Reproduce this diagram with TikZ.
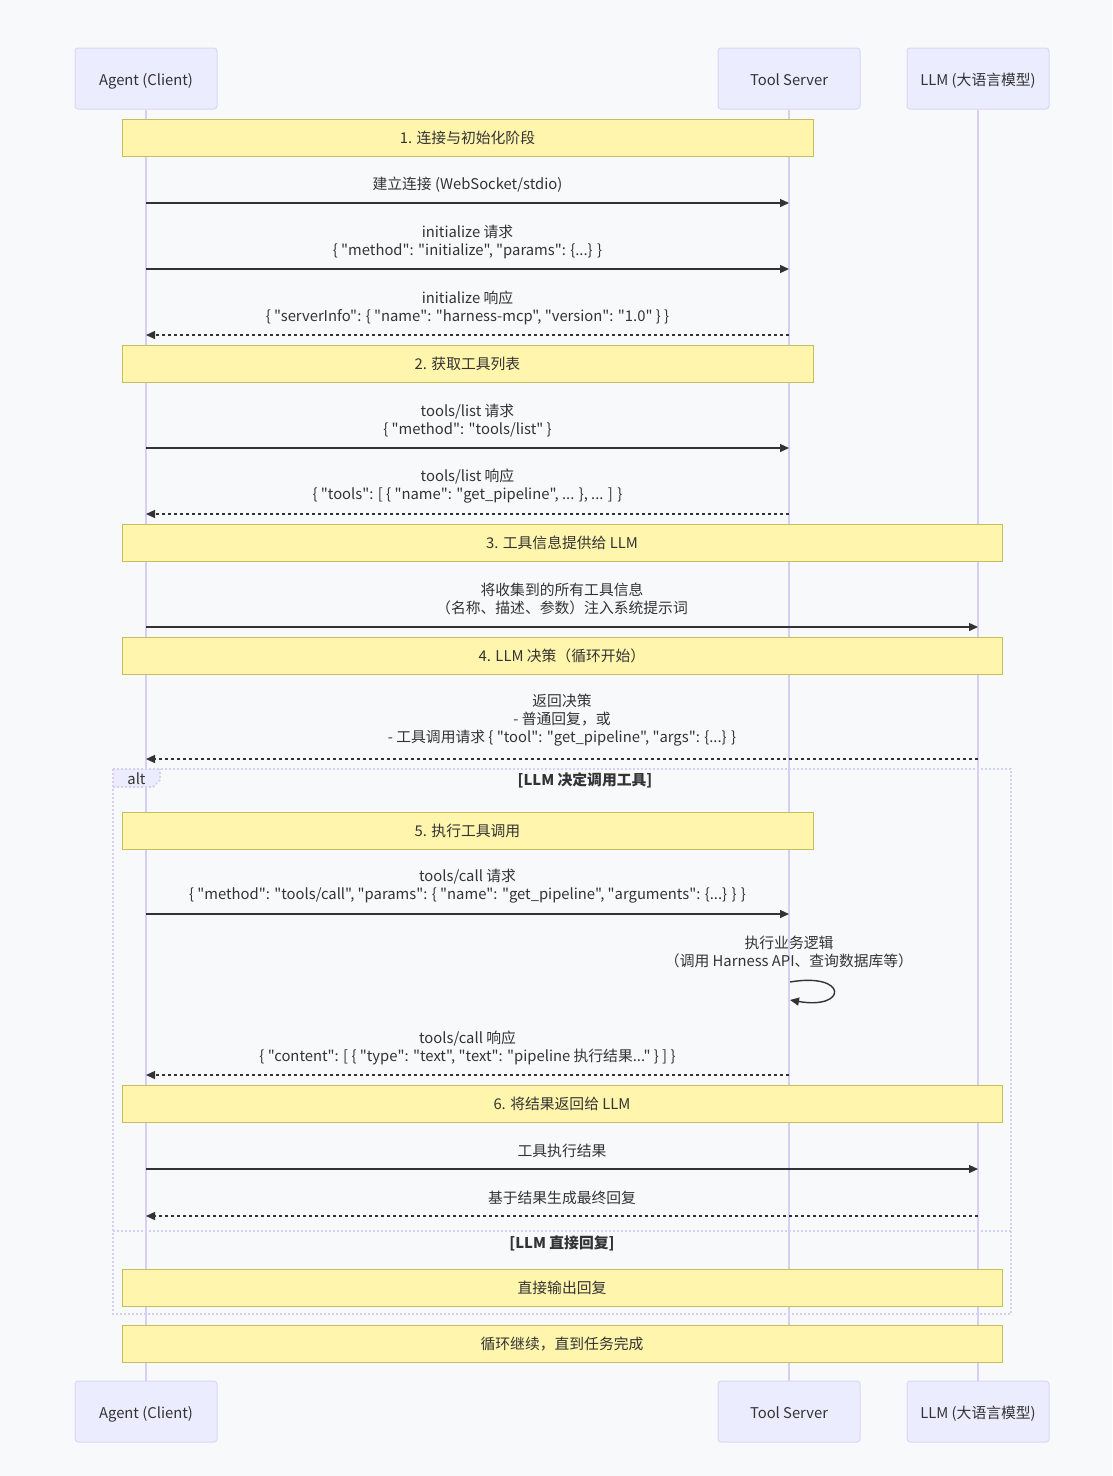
\documentclass[tikz,border=0pt]{standalone}
\usepackage{fontspec}
\setmainfont{Noto Sans CJK SC}[Ligatures=TeXOff]
\usetikzlibrary{shapes,positioning,arrows.meta}
\definecolor{bgcol}{HTML}{F8F9FB}
\definecolor{actorfill}{HTML}{ECECFF}
\definecolor{actorline}{HTML}{DCD5F7}
\definecolor{lifeline}{HTML}{D7CEF2}
\definecolor{notefill}{HTML}{FFF5AD}
\definecolor{noteline}{HTML}{C4BE5E}
\definecolor{txt}{HTML}{333333}
\newcommand{\msgfont}{\fontsize{14.8}{18}\selectfont}

\begin{document}
\begin{tikzpicture}[x=1pt,y=-1pt]

  \fill[bgcol] (0,0) rectangle (1112,1476);

  \coordinate (Agent) at (146,78.5);
  \coordinate (Server) at (789,78.5);
  \coordinate (Llm) at (978,78.5);
  \coordinate (AgentEnd) at (146,1411.5);
  \coordinate (ServerEnd) at (789,1411.5);
  \coordinate (LlmEnd) at (978,1411.5);

  \tikzstyle{abox}=[draw=actorline,fill=actorfill,line width=1pt,
                    rounded corners=3pt,
                    minimum width=142pt,minimum height=61pt,
                    text height=16pt,text depth=2pt,
                    text=txt,font=\msgfont];
  \tikzstyle{nbox}=[draw=noteline,fill=notefill,line width=1pt,
                    minimum width=691pt,minimum height=37pt,
                    text=txt,font=\msgfont];
  \tikzstyle{wbox}=[nbox,minimum width=880pt];
  \tikzstyle{msg}=[text=txt,align=center,inner sep=0pt,font=\msgfont];
  \tikzstyle{call}=[-{Triangle[length=9pt,width=8pt]},line width=1.4pt,color=txt];
  \tikzstyle{reply}=[call,dash pattern=on 3pt off 3pt];
  \tikzstyle{life}=[draw=lifeline,line width=1.5pt];
  \tikzstyle{frame}=[draw=lifeline,line width=1.6pt,dash pattern=on 2pt off 2pt];

  % actors and lifelines
  \node[abox] (AgentTop) at (Agent) {Agent (Client)};
  \node[abox] (ServerTop) at (Server) {Tool Server};
  \node[abox] (LlmTop) at (Llm) {LLM (大语言模型)};
  \node[abox] (AgentBot) at (AgentEnd) {Agent (Client)};
  \node[abox] (ServerBot) at (ServerEnd) {Tool Server};
  \node[abox] (LlmBot) at (LlmEnd) {LLM (大语言模型)};
  \draw[life] (AgentTop) -- (AgentBot);
  \draw[life] (ServerTop) -- (ServerBot);
  \draw[life] (LlmTop) -- (LlmBot);

  % alt frame
  \coordinate (AltNW) at (113,769);
  \coordinate (AltSE) at (1011,1314);
  \coordinate (ElseW) at (113,1231);
  \coordinate (ElseE) at (1011,1231);
  \fill[actorfill] (113,769) -- (160,769) -- (160,780) -- (153,787) -- (113,787) -- cycle;
  \draw[frame] (113,787) -- (153,787) -- (160,780) -- (160,769);
  \draw[frame] (AltNW) rectangle (AltSE);
  \draw[frame] (ElseW) -- (ElseE);
  \node[msg] (AltTag) at (136.5,779) {alt};
  \node[msg,font=\msgfont\bfseries] (AltIf) at (585,780) {[LLM 决定调用工具]};
  \node[msg,font=\msgfont\bfseries] (AltElse) at (562,1243) {[LLM 直接回复]};

  % notes
  \node[nbox] (Note1) at (467.5,137.5) {1. 连接与初始化阶段};
  \node[nbox] (Note2) at (467.5,363.5) {2. 获取工具列表};
  \node[wbox] (Note3) at (562,542.5) {3. 工具信息提供给 LLM};
  \node[wbox] (Note4) at (562,655.5) {4. LLM 决策（循环开始）};
  \node[nbox] (Note5) at (467.5,830.5) {5. 执行工具调用};
  \node[wbox] (Note6) at (562,1103.5) {6. 将结果返回给 LLM};
  \node[wbox] (Note7) at (562,1287.5) {直接输出回复};
  \node[wbox] (Note8) at (562,1343.5) {循环继续，直到任务完成};

  % phase 1
  \coordinate (a1) at (146,203); \coordinate (s1) at (789,203);
  \node[msg] (m1) at (467.5,184.5) {建立连接 (WebSocket/stdio)};
  \draw[call] (a1) -- (s1);

  \coordinate (a2) at (146,269); \coordinate (s2) at (789,269);
  \node[msg] (m2) at (467.5,241.5) {initialize 请求\\
 \{ "method": "initialize", "params": \{...\} \}};
  \draw[call] (a2) -- (s2);

  \coordinate (a3) at (146,335); \coordinate (s3) at (789,335);
  \node[msg] (m3) at (467.5,307.5) {initialize 响应\\
 \{ "serverInfo": \{ "name": "harness-mcp", "version": "1.0" \} \}};
  \draw[reply] (s3) -- (a3);

  % phase 2
  \coordinate (a4) at (146,448); \coordinate (s4) at (789,448);
  \node[msg] (m4) at (467.5,420.5) {tools/list 请求\\ \{ "method": "tools/list" \}};
  \draw[call] (a4) -- (s4);

  \coordinate (a5) at (146,514); \coordinate (s5) at (789,514);
  \node[msg] (m5) at (467.5,486.5) {tools/list 响应\\
 \{ "tools": [ \{ "name": "get\_pipeline", ... \}, ... ] \}};
  \draw[reply] (s5) -- (a5);

  % phase 3
  \coordinate (a6) at (146,627); \coordinate (l6) at (978,627);
  \node[msg] (m6) at (562,599) {将收集到的所有工具信息\\ （名称、描述、参数）注入系统提示词};
  \draw[call] (a6) -- (l6);

  % phase 4
  \coordinate (a7) at (146,759); \coordinate (l7) at (978,759);
  \node[msg] (m7) at (562,720) {返回决策\\ - 普通回复，或\\
 - 工具调用请求 \{ "tool": "get\_pipeline", "args": \{...\} \}};
  \draw[reply] (l7) -- (a7);

  % phase 5
  \coordinate (a8) at (146,914); \coordinate (s8) at (789,914);
  \node[msg] (m8) at (467.5,886.5) {tools/call 请求\\
 \{ "method": "tools/call", "params": \{ "name": "get\_pipeline", "arguments": \{...\} \} \}};
  \draw[call] (a8) -- (s8);

  \coordinate (s9) at (790,982); \coordinate (s9e) at (790,1000);
  \node[msg] (m9) at (789,952) {执行业务逻辑\\ （调用 Harness API、查询数据库等）};
  \draw[call] (s9) .. controls (848,972) and (848,1010) .. (s9e);

  \coordinate (a10) at (146,1075); \coordinate (s10) at (789,1075);
  \node[msg] (m10) at (467.5,1047.5) {tools/call 响应\\
 \{ "content": [ \{ "type": "text", "text": "pipeline 执行结果..." \} ] \}};
  \draw[reply] (s10) -- (a10);

  % phase 6
  \coordinate (a11) at (146,1169); \coordinate (l11) at (978,1169);
  \node[msg] (m11) at (562,1150.5) {工具执行结果};
  \draw[call] (a11) -- (l11);

  \coordinate (a12) at (146,1216); \coordinate (l12) at (978,1216);
  \node[msg] (m12) at (562,1197.5) {基于结果生成最终回复};
  \draw[reply] (l12) -- (a12);

\end{tikzpicture}
\end{document}
